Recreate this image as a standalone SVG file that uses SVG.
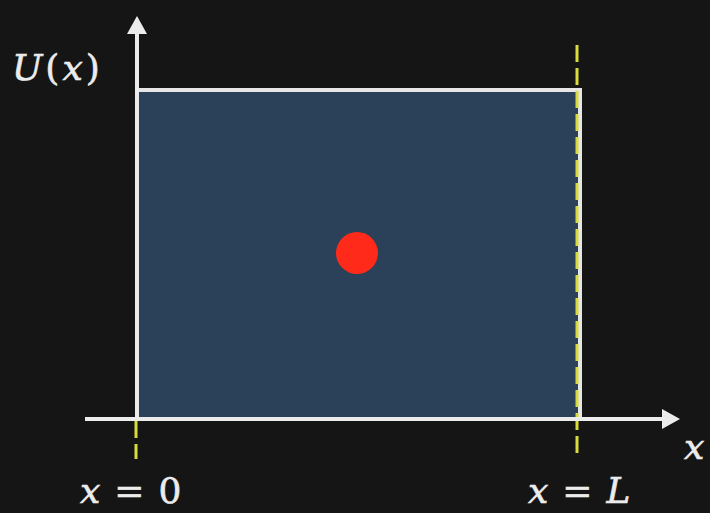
<svg xmlns="http://www.w3.org/2000/svg" width="710" height="513" viewBox="0 0 710 513">
<style>
.axis{stroke:#ececec;stroke-width:4;fill:none}
.dash{stroke:#d8dc3a;stroke-width:3;stroke-dasharray:17 6;fill:none}
.lbl{font-family:"DejaVu Serif","Liberation Serif",serif;font-style:italic;fill:#ececec;font-size:36px;stroke:#ececec;stroke-width:0.6}
</style>
<defs>
<marker id="ah" markerWidth="5" markerHeight="5" refX="1" refY="2.5" orient="auto" markerUnits="strokeWidth">
<path d="M0,0 L4.5,2.5 L0,5 Z" fill="#ececec"/>
</marker>
</defs>
<rect width="710" height="513" fill="#151515"/>
<g id="well">
<rect x="137" y="90" width="443" height="329" fill="#2a4159"/>
<path d="M137,90 H580 V419" stroke="#e6e6e6" stroke-width="4" fill="none"/>
</g>
<g id="particle">
<circle cx="357" cy="253" r="21" fill="#ff2a1a"/>
</g>
<g id="connectors">
<line class="dash" x1="577" y1="45" x2="577" y2="459"/>
<line class="dash" x1="136" y1="421" x2="136" y2="459"/>
<line class="axis" x1="137" y1="419" x2="137" y2="30" marker-end="url(#ah)"/>
<line class="axis" x1="85" y1="419" x2="666" y2="419" marker-end="url(#ah)"/>
</g>
<g id="labels">
<text class="lbl" x="12" y="80" letter-spacing="3">U<tspan font-style="normal">(</tspan>x<tspan font-style="normal">)</tspan></text>
<text class="lbl" x="684" y="459">x</text>
<text class="lbl" x="80" y="503">x<tspan font-style="normal" dx="14">=</tspan><tspan font-style="normal" dx="14">0</tspan></text>
<text class="lbl" x="528" y="503">x<tspan font-style="normal" dx="14">=</tspan><tspan dx="14">L</tspan></text>
</g>
</svg>
